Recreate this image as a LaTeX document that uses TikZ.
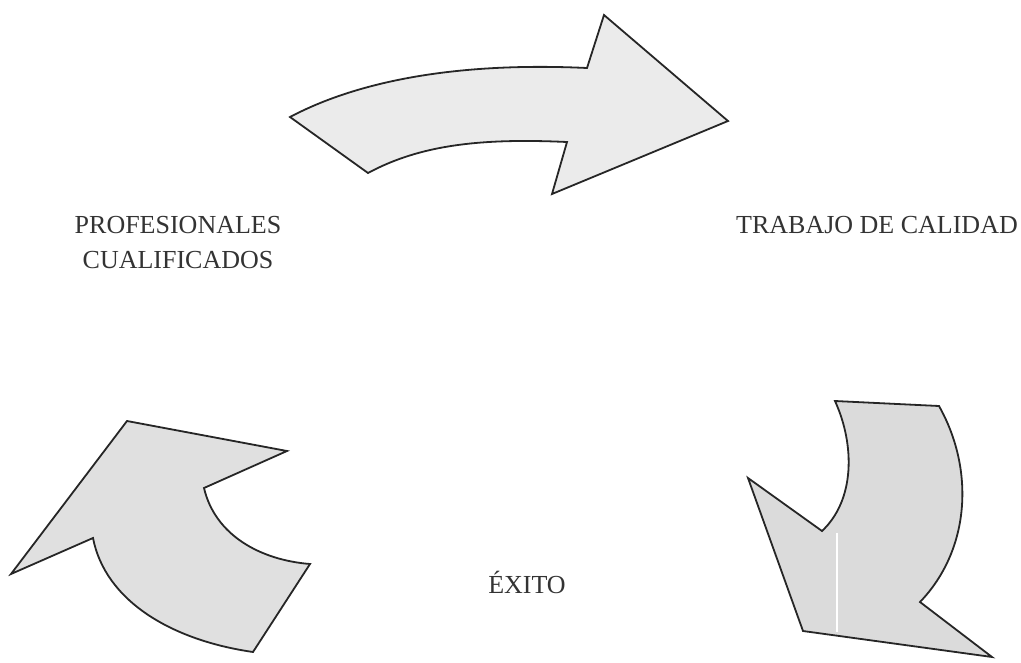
\documentclass[tikz,border=0pt]{standalone}
\usepackage{fontspec}
\setmainfont{Liberation Serif}
\begin{document}
\begin{tikzpicture}[x=1pt,y=-1pt,
  arrowshape/.style={draw=black!85,line width=1.8pt,line join=miter},
  lbl/.style={font=\fontsize{26}{35}\selectfont,text=black!80,inner sep=0pt,anchor=base,align=center}]
\useasboundingbox (0,0) rectangle (1021,662);
% top arrow
\path[arrowshape,fill=black!8] (290,117) .. controls (360,80) and (460,62) .. (587,68)
  -- (604,15) -- (728,121) -- (552,194) -- (567,142)
  .. controls (480,138) and (420,145) .. (368,173) -- cycle;
% left arrow
\path[arrowshape,fill=black!12] (127,421) -- (287,451) -- (204,488)
  .. controls (215,535) and (260,560) .. (310,564)
  -- (253,652)
  .. controls (170,640) and (105,600) .. (93,538)
  -- (11,574) -- cycle;
% right arrow
\path[arrowshape,fill=black!14] (835,401) -- (939,406)
  .. controls (975,470) and (970,550) .. (920,602)
  -- (992,657) -- (803,631) -- (748,478) -- (822,531)
  .. controls (855,500) and (855,445) .. (835,401) -- cycle;
\draw[white,line width=1.2pt] (837,533) -- (837,632);
% labels
\node[lbl] (prof) at (178,268) {PROFESIONALES\\CUALIFICADOS};
\node[lbl] (trab) at (877,233) {TRABAJO DE CALIDAD};
\node[lbl] (exito) at (527,593) {ÉXITO};
\end{tikzpicture}
\end{document}
